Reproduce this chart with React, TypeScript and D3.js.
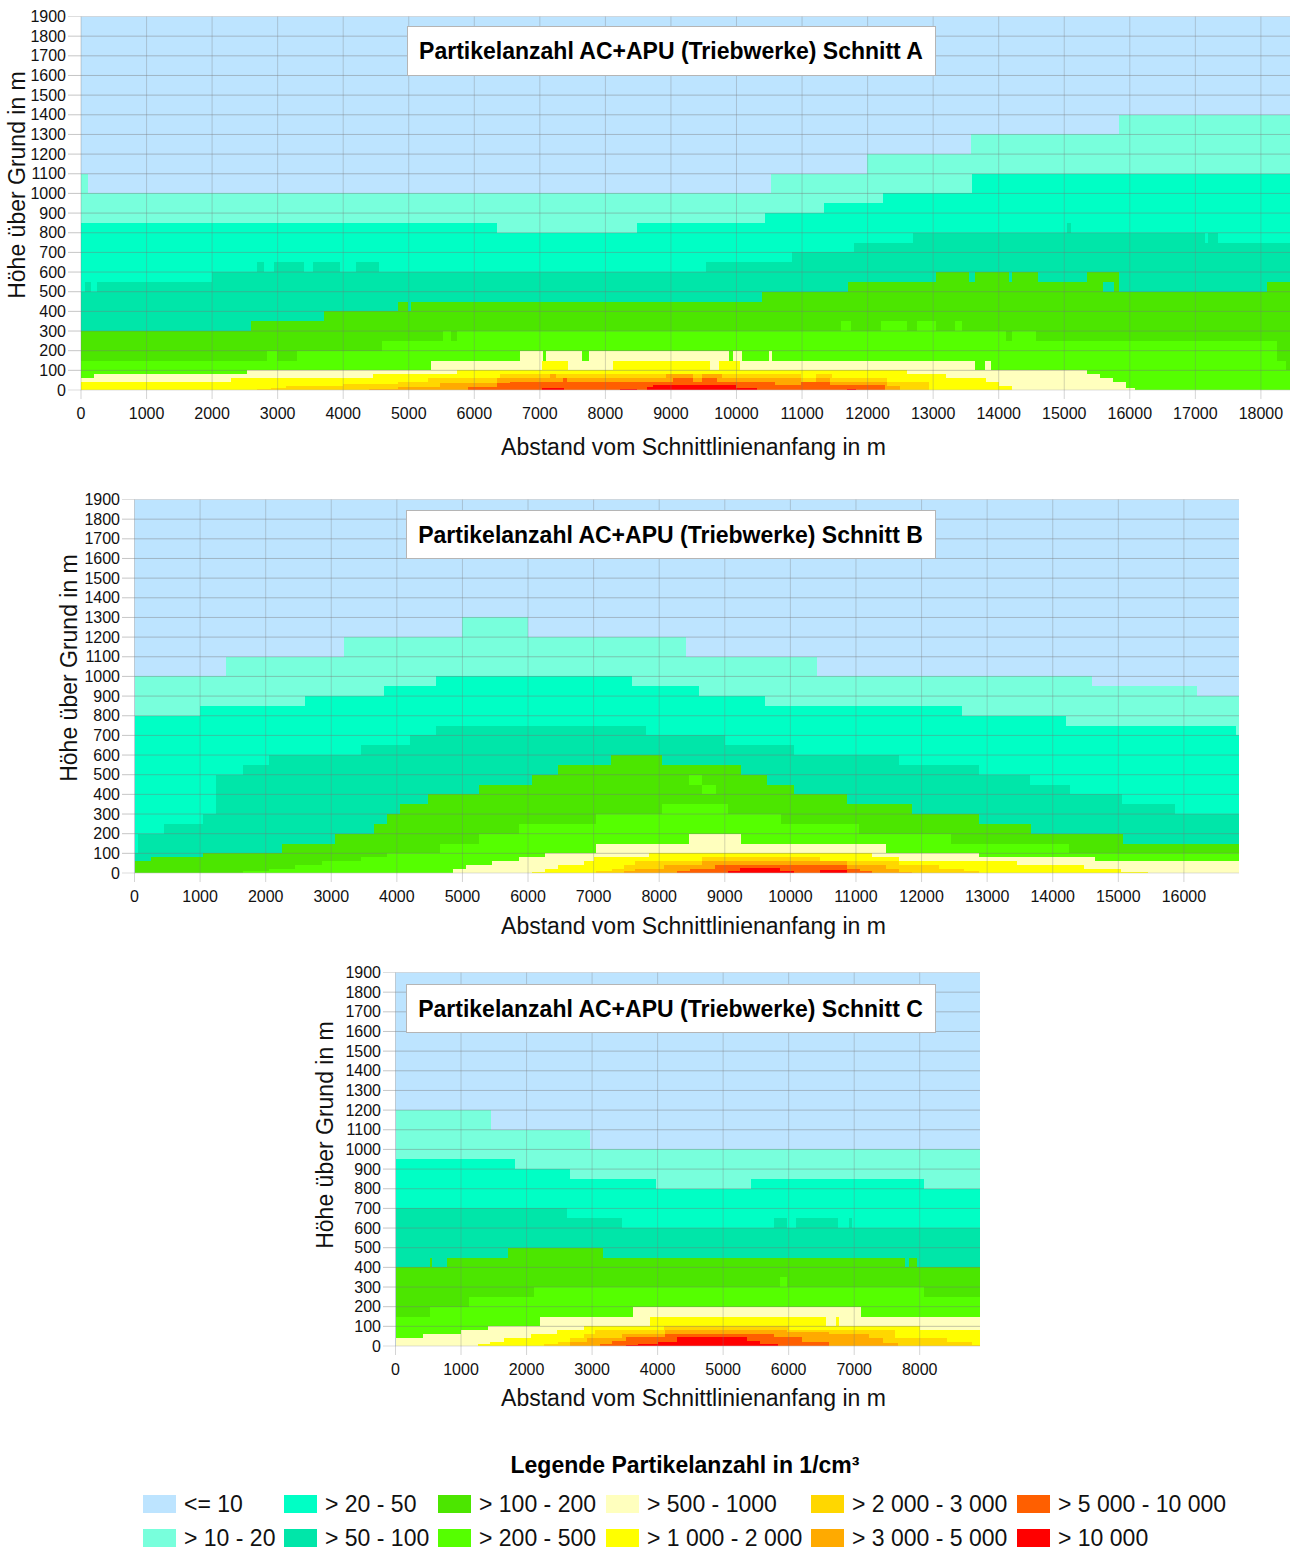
import React from "react";
import * as d3 from "d3";

const classLabels = ["<= 10","> 10 - 20","> 20 - 50","> 50 - 100","> 100 - 200","> 200 - 500","> 500 - 1000","> 1 000 - 2 000","> 2 000 - 3 000","> 3 000 - 5 000","> 5 000 - 10 000","> 10 000"];
const classColors = ["#bde4ff","#78ffdc","#00ffc5","#00e6a9","#4ce600","#55ff00","#ffffbe","#ffff00","#ffd700","#ffaa00","#ff5f00","#ff0000"];
const heightTicks = d3.range(0, 2000, 100);

type S = number[][];
// Upper limit (m) of each class along the section: [distance, height]
const a10: S = [[0,1100],[100,1000],[10530,1100],[11990,1200],[13570,1300],[15830,1400]];
const a20: S = [[0,850],[6340,800],[8480,850],[10440,900],[11340,950],[12230,1000],[13600,1100]];
const a50: S = [[0,500],[60,550],[150,500],[250,550],[2000,600],[2690,650],[2790,600],[2940,650],[3400,600],[3540,650],[3950,600],[4190,650],[4540,600],[9530,650],[10840,700],[11790,750],[12700,800],[15040,850],[15100,800],[17150,750],[17200,800],[17350,750]];
const a100: S = [[0,300],[2600,350],[3700,400],[4840,450],[4990,400],[5040,450],[10390,500],[11700,550],[13040,600],[13540,550],[13640,600],[14150,550],[14210,600],[14600,550],[15340,600],[15840,500],[18090,550]];
const a200: S = [[0,150],[2840,200],[2990,150],[3290,200],[4590,250],[5530,300],[5650,250],[5740,300],[11600,350],[11740,300],[12200,350],[12600,300],[12750,350],[13040,300],[13340,350],[13440,300],[14110,250],[14210,300],[14570,250],[18240,150],[18380,100]];
const a500: S = [[0,60],[200,80],[2540,100],[5340,150],[6690,200],[7050,150],[7090,200],[7640,150],[7750,200],[9890,150],[9950,200],[10090,150],[10490,200],[10540,150],[13640,100],[13790,150],[13890,100],[15340,80],[15540,60],[15750,40],[15940,10],[16080,0]];
const a1000: S = [[0,40],[2290,60],[4460,80],[5740,100],[7040,150],[7430,100],[8110,150],[9590,100],[9730,150],[10050,100],[12600,80],[13200,60],[13800,40],[14000,20],[14200,0]];
const a2000: S = [[2690,5],[2900,10],[3130,20],[4000,30],[4840,40],[5290,60],[6390,80],[10990,60],[11220,80],[11460,60],[12290,40],[12940,0]];
const a3000: S = [[4390,5],[4840,15],[5480,35],[6340,60],[7160,80],[7240,60],[8930,80],[9330,60],[9480,80],[9780,60],[10990,40],[11220,60],[11420,40],[12290,20],[12490,0]];
const a5000: S = [[5900,15],[6340,35],[6540,40],[7360,60],[7420,40],[9030,60],[9330,40],[9480,60],[9700,40],[10580,25],[10990,40],[11420,25],[12260,0]];
const a10000: S = [[7030,10],[7370,0],[8220,5],[8480,0],[8630,15],[8730,25],[9990,10],[10320,0],[11690,5],[11830,0]];

const b10: S = [[0,1000],[1400,1100],[3200,1200],[5000,1300],[6000,1200],[8410,1100],[10400,1000],[14600,950],[16200,900]];
const b20: S = [[0,800],[1000,850],[2600,900],[3800,950],[4600,1000],[7590,950],[8600,900],[9610,850],[12610,800],[14200,750],[16790,700]];
const b50: S = [[0,100],[50,200],[450,250],[1050,300],[1250,500],[1650,550],[2050,600],[3450,650],[4200,700],[4600,750],[7800,700],[9000,650],[10050,600],[11650,550],[12870,500],[13660,450],[14260,400],[15050,350],[15860,300]];
const b100: S = [[0,60],[250,80],[1050,100],[2250,150],[3050,200],[3650,250],[3850,300],[4050,350],[4470,400],[5260,450],[6060,500],[6460,550],[7260,600],[8050,550],[9250,500],[9650,450],[10050,400],[10860,350],[11860,300],[12870,250],[13670,200],[15070,150]];
const b200: S = [[1650,10],[2050,20],[2450,40],[2860,60],[3450,80],[3850,100],[4660,150],[5260,200],[5860,250],[7040,300],[8050,350],[9050,300],[9850,250],[11050,200],[12450,150],[14250,100]];
const b500: S = [[4850,20],[5050,40],[5450,60],[5860,80],[6260,100],[7040,150],[8460,200],[9250,150],[11460,100],[12870,80],[14650,60]];
const b1000: S = [[6060,5],[6260,20],[6460,40],[6850,60],[7000,80],[7840,100],[11250,80],[11650,60],[13460,40],[14470,20],[15040,5],[15460,0]];
const b2000: S = [[7040,8],[7280,20],[7460,40],[7630,60],[8650,80],[10450,60],[11650,40],[12270,20],[12650,10],[12870,0]];
const b3000: S = [[7460,10],[7630,20],[8070,40],[8650,60],[10860,40],[11460,20],[11650,5],[11850,0]];
const b5000: S = [[8270,10],[8470,20],[8850,40],[10860,20],[11060,8],[11250,0]];
const b10000: S = [[9050,10],[9230,25],[9840,10],[10050,0],[10450,15],[10860,0]];

const c10: S = [[0,1200],[1460,1100],[2970,1000]];
const c20: S = [[0,950],[1820,900],[2670,850],[3970,800],[5430,850],[8070,800]];
const c50: S = [[0,700],[2610,650],[3460,600],[5780,650],[5970,600],[6110,650],[6760,600],[6920,650],[6970,600]];
const c100: S = [[0,400],[520,450],[560,400],[780,450],[1720,500],[3170,450],[7770,400],[7830,450],[7960,400]];
const c200: S = [[0,150],[520,200],[1120,250],[2110,300],[5870,350],[5970,300],[8060,250]];
const c500: S = [[0,40],[420,60],[1000,80],[1410,100],[2210,150],[3620,200],[7110,150]];
const c1000: S = [[1260,10],[1440,20],[1650,40],[2070,60],[2460,80],[2870,100],[3880,150],[6570,100],[6730,150],[6770,100],[8000,80]];
const c2000: S = [[2270,10],[2480,20],[2660,40],[2870,60],[3050,80],[4090,100],[6000,80],[7620,40],[8420,20],[8800,5]];
const c3000: S = [[2660,20],[2930,40],[3460,60],[4110,80],[5970,70],[6620,60],[7230,40],[7440,15],[7670,0]];
const c5000: S = [[3120,8],[3310,25],[3520,45],[4110,60],[5780,45],[6200,20],[6610,0]];
const c10000: S = [[3520,5],[3700,10],[4000,20],[4290,45],[5360,25],[5570,8],[5840,0]];

// isolated cells that break the nesting: [class, x0, x1, h0, h1]
const patchesA: S = [[3,15590,15760,500,550]];
const patchesB: S = [[5,8460,8660,450,500],[5,8660,8860,400,450]];
const patchesC: S = [];

const ticksA = d3.range(0, 18001, 1000);
const ticksB = d3.range(0, 16001, 1000);
const ticksC = d3.range(0, 8001, 1000);

const charts = [
  { name: "A", layers: [a10,a20,a50,a100,a200,a500,a1000,a2000,a3000,a5000,a10000], patches: patchesA, ticks: ticksA, xMax: 18444,
    left: 81, right: 1290, top: 16.5, bottom: 390, labelEdge: 66, yTitleX: 17, yTitleY: 185, xTitleGap: 65, box: [407,26,528,49] },
  { name: "B", layers: [b10,b20,b50,b100,b200,b500,b1000,b2000,b3000,b5000,b10000], patches: patchesB, ticks: ticksB, xMax: 16840,
    left: 134.5, right: 1239, top: 499.5, bottom: 873, labelEdge: 120, yTitleX: 69, yTitleY: 668, xTitleGap: 61, box: [406,510,529,48] },
  { name: "C", layers: [c10,c20,c50,c100,c200,c500,c1000,c2000,c3000,c5000,c10000], patches: patchesC, ticks: ticksC, xMax: 8920,
    left: 395.5, right: 980, top: 972.5, bottom: 1346, labelEdge: 381, yTitleX: 325, yTitleY: 1135, xTitleGap: 60, box: [406,984,529,48] },
];

const FONT = "'Liberation Sans', Arial, sans-serif";
const GRID_H = "rgba(120,120,120,0.42)";
const GRID_V = "rgba(120,120,120,0.32)";

function Chart({ c }: { c: (typeof charts)[number] }) {
  const x = d3.scaleLinear().domain([0, c.xMax]).range([c.left, c.right]);
  const y = d3.scaleLinear().domain([0, 1900]).range([c.bottom, c.top]);
  const area = d3.area<number[]>().x(d => x(d[0])).y0(y(0)).y1(d => y(d[1])).curve(d3.curveStepAfter);
  return (
    <g>
      <rect x={c.left} y={c.top} width={c.right - c.left} height={c.bottom - c.top} fill={classColors[0]} />
      {c.layers.map((s, i) => (
        <path key={i} d={area([...s, [c.xMax, s[s.length - 1][1]]]) || ""} fill={classColors[i + 1]} shapeRendering="crispEdges" />
      ))}
      {c.patches.map((p, i) => (
        <rect key={i} x={x(p[1])} width={x(p[2]) - x(p[1])} y={y(p[4])} height={y(p[3]) - y(p[4])} fill={classColors[p[0]]} shapeRendering="crispEdges" />
      ))}
      {heightTicks.map(t => (
        <g key={t}>
          <line x1={c.labelEdge + 2} x2={c.right} y1={y(t)} y2={y(t)} stroke={t === 0 || t === 1900 ? "rgba(190,190,190,0.5)" : GRID_H} />
          <text x={c.labelEdge} y={y(t)} dy="0.35em" textAnchor="end" fontSize={16} fill="#111">{t}</text>
        </g>
      ))}
      {c.ticks.map(t => (
        <g key={t}>
          <line x1={x(t)} x2={x(t)} y1={c.top} y2={c.bottom + 9} stroke={GRID_V} />
          <text x={x(t)} y={c.bottom + 23} dy="0.35em" textAnchor="middle" fontSize={16} fill="#111">{t}</text>
        </g>
      ))}
      <text x={693.5} y={c.bottom + c.xTitleGap} textAnchor="middle" fontSize={23} fill="#111">Abstand vom Schnittlinienanfang in m</text>
      <text transform={`translate(${c.yTitleX + 8},${c.yTitleY}) rotate(-90)`} textAnchor="middle" fontSize={23} fill="#111">Höhe über Grund in m</text>
      <rect x={c.box[0] + 0.5} y={c.box[1] + 0.5} width={c.box[2]} height={c.box[3]} fill="#fff" stroke="#b5b5b5" />
      <text x={c.box[0] + c.box[2] / 2} y={c.box[1] + 33} textAnchor="middle" fontSize={23} fontWeight="bold" fill="#000">{`Partikelanzahl AC+APU (Triebwerke) Schnitt ${c.name}`}</text>
    </g>
  );
}

const legendColumns = [143, 284, 438, 606, 811, 1017];
const legendRows = [1495, 1529];

export default function App() {
  return (
    <svg width={1295} height={1552} viewBox="0 0 1295 1552" style={{ position: "absolute", left: 0, top: 0, fontFamily: FONT, background: "#fff" }}>
      {charts.map(c => <Chart key={c.name} c={c} />)}
      <text x={685} y={1473} textAnchor="middle" fontSize={23} fontWeight="bold" fill="#000">Legende Partikelanzahl in 1/cm³</text>
      {classLabels.map((l, i) => {
        const cx = legendColumns[Math.floor(i / 2)];
        const ry = legendRows[i % 2];
        return (
          <g key={l}>
            <rect x={cx} y={ry} width={33} height={18} fill={classColors[i]} />
            <text x={cx + 41} y={ry + 17} fontSize={23} fill="#111">{l}</text>
          </g>
        );
      })}
    </svg>
  );
}
